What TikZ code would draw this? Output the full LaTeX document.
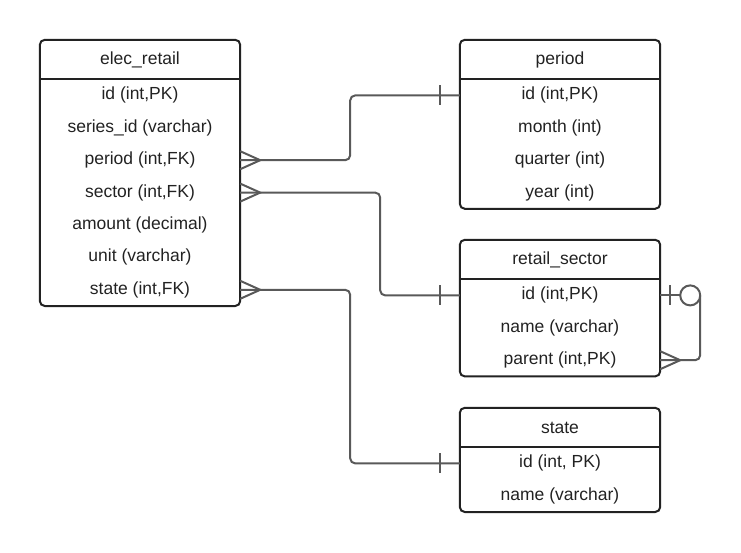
\documentclass[tikz,border=0pt]{standalone}
\usepackage{fontspec}
\setmainfont{Liberation Sans}
\usetikzlibrary{positioning}
\definecolor{edgegray}{HTML}{595959}
\definecolor{boxline}{HTML}{222222}

\begin{document}
\begin{tikzpicture}[x=1pt, y=-1pt,
  table/.style={draw=boxline, line width=2pt, rounded corners=5pt},
  row/.style={minimum width=200pt, minimum height=32pt, inner sep=0pt,
              text=boxline, font=\fontsize{17.5}{20}\selectfont},
  head/.style={row, minimum height=39pt},
  link/.style={draw=edgegray, line width=2pt, rounded corners=5pt},
  foot/.style={draw=edgegray, line width=2pt}]
  \useasboundingbox (0,0) rectangle (741,552);

  % Table 1 - elec_retail (left)
  \begin{scope}
    \node[head] (er) at (140,59.5) {elec\_retail};
    \node[row, below=0pt of er] (er-id) {id (int,PK)};
    \node[row, below=0pt of er-id] (er-series) {series\_id (varchar)};
    \node[row, below=0pt of er-series] (er-period) {period (int,FK)};
    \node[row, below=0pt of er-period] (er-sector) {sector (int,FK)};
    \node[row, below=0pt of er-sector] (er-amount) {amount (decimal)};
    \node[row, below=0pt of er-amount] (er-unit) {unit (varchar)};
    \node[row, below=0pt of er-unit] (er-state) {state (int,FK)};
    \draw[table] (er.north west) rectangle (er-state.south east);
    \draw[table] (er.south west) -- (er.south east);
  \end{scope}

  % Table 2 - period (top right)
  \begin{scope}
    \node[head] (pe) at (560,59.5) {period};
    \node[row, below=0pt of pe] (pe-id) {id (int,PK)};
    \node[row, below=0pt of pe-id] (pe-month) {month (int)};
    \node[row, below=0pt of pe-month] (pe-quarter) {quarter (int)};
    \node[row, below=0pt of pe-quarter] (pe-year) {year (int)};
    \draw[table] (pe.north west) rectangle (pe-year.south east);
    \draw[table] (pe.south west) -- (pe.south east);
  \end{scope}

  % Table 3 - retail_sector (middle right)
  \begin{scope}
    \node[head] (rs) at (560,259.5) {retail\_sector};
    \node[row, below=0pt of rs] (rs-id) {id (int,PK)};
    \node[row, below=0pt of rs-id] (rs-name) {name (varchar)};
    \node[row, below=0pt of rs-name] (rs-parent) {parent (int,PK)};
    \draw[table] (rs.north west) rectangle (rs-parent.south east);
    \draw[table] (rs.south west) -- (rs.south east);
  \end{scope}

  % Table 4 - state (bottom right)
  \begin{scope}
    \node[head] (st) at (560,427.5) {state};
    \node[row, below=0pt of st] (st-id) {id (int, PK)};
    \node[row, below=0pt of st-id] (st-name) {name (varchar)};
    \draw[table] (st.north west) rectangle (st-name.south east);
    \draw[table] (st.south west) -- (st.south east);
  \end{scope}

  % Relations: many (crow's foot) to one (bar)
  \draw[link] (er-period.east) -- ++(110,0) |- (pe-id.west);
  \draw[foot] (er-period.east) ++(0,-9) -- ++(20,9) -- ++(-20,9);
  \draw[foot] (pe-id.west) ++(-20,-10) -- ++(0,20);

  \draw[link] (er-sector.east) -- ++(140,0) |- (rs-id.west);
  \draw[foot] (er-sector.east) ++(0,-9) -- ++(20,9) -- ++(-20,9);
  \draw[foot] (rs-id.west) ++(-20,-10) -- ++(0,20);

  \draw[link] (er-state.east) -- ++(110,0) |- (st-id.west);
  \draw[foot] (er-state.east) ++(0,-9) -- ++(20,9) -- ++(-20,9);
  \draw[foot] (st-id.west) ++(-20,-10) -- ++(0,20);

  % Self reference on retail_sector
  \coordinate (loop) at ([xshift=30pt]rs-id.east);
  \draw[foot] (rs-id.east) -- ([xshift=-10pt]loop);
  \draw[foot] (rs-id.east) ++(10,-10) -- ++(0,20);
  \draw[foot] (loop) circle (10pt);
  \draw[link] ([xshift=10pt]loop) |- (rs-parent.east);
  \draw[foot] (rs-parent.east) ++(0,-9) -- ++(20,9) -- ++(-20,9);
\end{tikzpicture}
\end{document}
